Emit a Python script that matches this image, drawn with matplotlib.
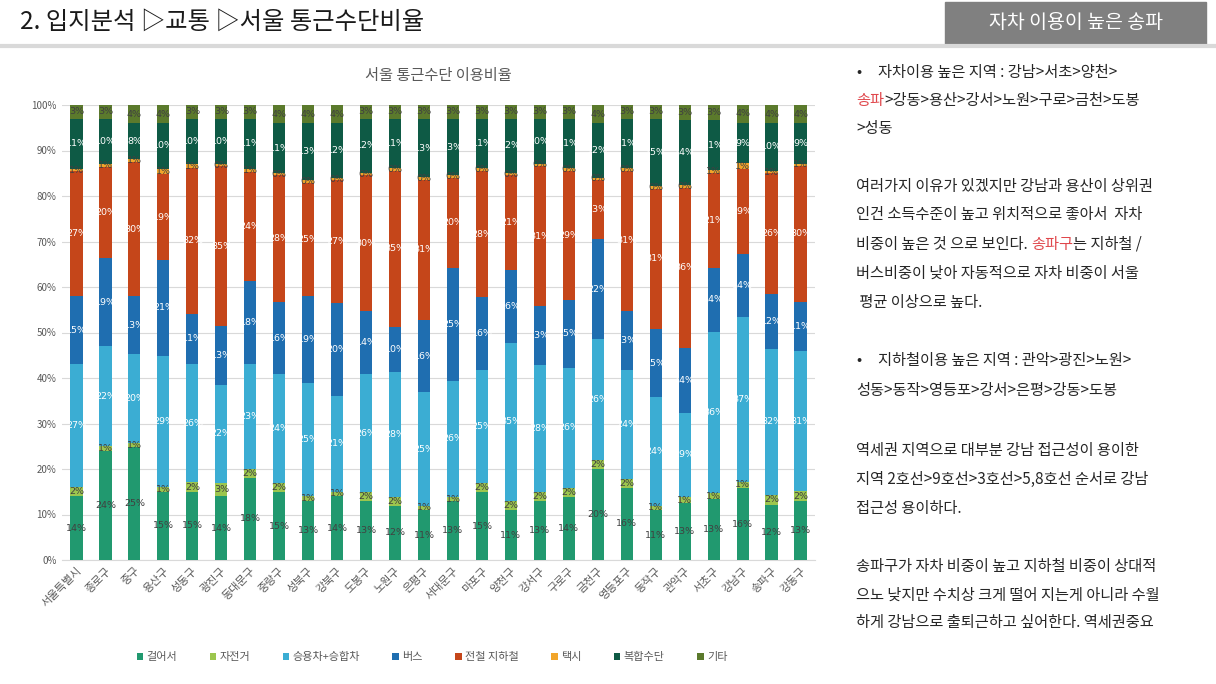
import matplotlib

matplotlib.use("Agg")
import matplotlib.pyplot as plt
import numpy as np

plt.rcParams["font.family"] = ["Noto Sans CJK KR", "DejaVu Sans"]

districts = [
    "서울특별시", "종로구", "중구", "용산구", "성동구", "광진구", "동대문구", "중랑구",
    "성북구", "강북구", "도봉구", "노원구", "은평구", "서대문구", "마포구", "양천구",
    "강서구", "구로구", "금천구", "영등포구", "동작구", "관악구", "서초구", "강남구",
    "송파구", "강동구",
]

# commuting mode share (%)
walk = [14, 24, 25, 15, 15, 14, 18, 15, 13, 14, 13, 12, 11, 13, 15, 11, 13, 14, 20, 16, 11, 12.6, 13.4, 16, 12, 13]
bike = [2, 1, 1, 1, 2, 3, 2, 2, 1, 1, 2, 2, 1, 1, 2, 2, 2, 2, 2, 2, 1, 1.4, 1.4, 1.4, 2.3, 2.3]
car = [27, 22, 19.6, 29, 26, 21.5, 23, 24, 25, 21, 26, 27.5, 25, 25.6, 25, 35, 28, 26.5, 26.5, 24, 24, 18.6, 35.6, 36.6, 32, 31]
bus = [15, 19.4, 13, 21, 11, 13, 18, 16, 19, 20.4, 14, 10, 16, 25, 16, 16, 13, 15, 22, 13, 15, 14.4, 14, 14, 12, 11]
subway = [27.4, 20, 29.6, 19, 32, 35, 24, 28, 25, 27, 30, 34.6, 31, 20, 28, 21, 31, 28.6, 13, 31, 31, 35.6, 21, 19, 26.4, 30]
taxi = [0.6, 0.6, 0.7, 1.2, 0.8, 0.5, 0.6, 0.5, 0.5, 0.5, 0.5, 0.5, 0.5, 0.5, 0.5, 0.5, 0.5, 0.5, 0.5, 0.5, 0.5, 0.5, 0.6, 1.2, 0.6, 0.6]
combined = [11, 10, 8, 10, 10, 10, 11, 11, 12.6, 12, 12, 11, 13, 12.6, 11, 12, 10, 11, 12, 11, 15, 14.4, 11, 9, 10.4, 9]
other = [3, 3, 4, 4, 3, 3, 3, 4, 4, 4, 3, 3, 3, 3, 3, 3, 3, 3, 4, 3, 3, 3.4, 3.4, 4, 4, 4]

modes = ["걸어서", "자전거", "승용차+승합차", "버스", "전철 지하철", "택시", "복합수단", "기타"]
series = [walk, bike, car, bus, subway, taxi, combined, other]
colors = ["#21996F", "#9CC64E", "#3BADD3", "#1F6EB0", "#C5461A", "#F2A52A", "#0E5A45", "#5B7A2C"]
label_colors = ["#404040", "#404040", "#FFFFFF", "#FFFFFF", "#FFFFFF", "#404040", "#FFFFFF", "#404040"]

W, H = 1216, 684
fig = plt.figure(figsize=(W / 100, H / 100), dpi=100)

# chart
ax = fig.add_axes([62 / W, 1 - 560 / H, 753 / W, 455 / H])
values = np.array(series, dtype=float)
shares = values / values.sum(axis=0) * 100
x = np.arange(len(districts))
bottom = np.zeros(len(districts))
for name, share, raw, color, lcolor in zip(modes, shares, values, colors, label_colors):
    ax.bar(x, share, 0.42, bottom=bottom, color=color, label=name, zorder=3)
    for xi, b, s, r in zip(x, bottom, share, raw):
        ax.text(xi, b + s / 2, f"{r:.0f}%", ha="center", va="center",
                fontsize=6.8, color=lcolor, zorder=4, family="DejaVu Sans")
    bottom += share

ax.set_xlim(-0.5, len(districts) - 0.5)
ax.set_ylim(0, 100)
ax.set_yticks(np.arange(0, 101, 10))
ax.set_yticklabels([f"{v}%" for v in range(0, 101, 10)], fontsize=7, color="#595959")
ax.set_xticks(x)
ax.set_xticklabels(districts, rotation=45, ha="right", rotation_mode="anchor",
                   fontsize=8, color="#595959")
ax.tick_params(length=0, pad=4)
ax.grid(axis="y", color="#D9D9D9", linewidth=0.8, zorder=0)
for side in ["top", "right", "left"]:
    ax.spines[side].set_visible(False)
ax.spines["bottom"].set_color("#D9D9D9")
ax.set_title("서울 통근수단 이용비율", fontsize=11, color="#595959", pad=18)

fig.legend(loc="center", bbox_to_anchor=(432 / W, 1 - 657 / H), ncol=8, frameon=False,
           fontsize=8, handlelength=0.6, handleheight=0.6, handletextpad=0.3,
           columnspacing=2.9, labelcolor="#595959")

# page decorations and notes, in pixel coordinates
ov = fig.add_axes([0, 0, 1, 1])
ov.set_xlim(0, W)
ov.set_ylim(H, 0)
ov.axis("off")

ov.text(20, 22, "2. 입지분석 ▷교통 ▷서울 통근수단비율", fontsize=17.5, color="#1A1A1A", va="center")
ov.plot([0, W], [46, 46], color="#D9D9D9", linewidth=3)
ov.add_patch(plt.Rectangle((945, 2), 261, 42, color="#808080"))
ov.text(1076, 22, "자차 이용이 높은 송파", fontsize=14, color="white", ha="center", va="center")

text_color = "#262626"
red = "#E0474C"
fs = 11


def line(y, parts, x0=856):
    prev = None
    for part, color in parts:
        if prev is None:
            prev = ov.text(x0, y, part, fontsize=fs, color=color, va="center")
        else:
            prev = ov.annotate(part, xy=(1, 0), xycoords=prev, va="bottom", ha="left",
                               fontsize=fs, color=color)


line(72, [("•", text_color)])
line(72, [("자차이용 높은 지역 : 강남>서초>양천>", text_color)], x0=878)
line(100, [("송파", red), (">강동>용산>강서>노원>구로>금천>도봉", text_color)])
line(129, [(">성동", text_color)])
line(187, [("여러가지 이유가 있겠지만 강남과 용산이 상위권", text_color)])
line(215, [("인건 소득수준이 높고 위치적으로 좋아서  자차", text_color)])
line(244, [("비중이 높은 것 으로 보인다. ", text_color), ("송파구", red), ("는 지하철 /", text_color)])
line(273, [("버스비중이 낮아 자동적으로 자차 비중이 서울", text_color)])
line(302, [(" 평균 이상으로 높다.", text_color)])
line(360, [("•", text_color)])
line(360, [("지하철이용 높은 지역 : 관악>광진>노원>", text_color)], x0=878)
line(390, [("성동>동작>영등포>강서>은평>강동>도봉", text_color)])
line(450, [("역세권 지역으로 대부분 강남 접근성이 용이한", text_color)])
line(479, [("지역 2호선>9호선>3호선>5,8호선 순서로 강남", text_color)])
line(508, [("접근성 용이하다.", text_color)])
line(566, [("송파구가 자차 비중이 높고 지하철 비중이 상대적", text_color)])
line(595, [("으노 낮지만 수치상 크게 떨어 지는게 아니라 수월", text_color)])
line(623, [("하게 강남으로 출퇴근하고 싶어한다. 역세권중요", text_color)])

fig.savefig("out.png", dpi=100)
